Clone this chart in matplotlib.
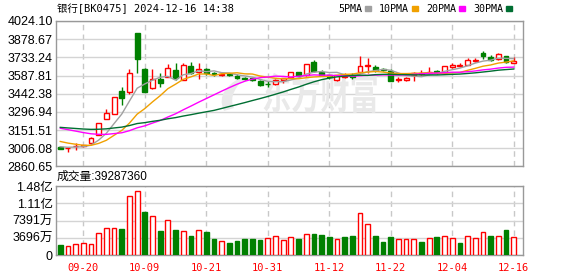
# -*- coding: utf-8 -*-
import numpy as np
import matplotlib
matplotlib.use('Agg')
import matplotlib.pyplot as plt
from matplotlib.patches import Rectangle, Patch, PathPatch
from matplotlib.path import Path
from matplotlib.textpath import TextPath
from matplotlib.font_manager import FontProperties
import matplotlib.transforms as mtrans

dates = ['09-13', '09-18', '09-19', '09-20', '09-23', '09-24', '09-25', '09-26', '09-27', '09-30',
         '10-08', '10-09', '10-10', '10-11', '10-14', '10-15', '10-16', '10-17', '10-18', '10-21',
         '10-22', '10-23', '10-24', '10-25', '10-28', '10-29', '10-30', '10-31', '11-01', '11-04',
         '11-05', '11-06', '11-07', '11-08', '11-11', '11-12', '11-13', '11-14', '11-15', '11-18',
         '11-19', '11-20', '11-21', '11-22', '11-25', '11-26', '11-27', '11-28', '11-29', '12-02',
         '12-03', '12-04', '12-05', '12-06', '12-09', '12-10', '12-11', '12-12', '12-13', '12-16']
opens = [3013, 3008, 3024, 3022, 3045, 3112, 3242, 3282, 3464, 3458,
         3925, 3637, 3485, 3557, 3578, 3632, 3552, 3664, 3620, 3637,
         3605, 3596, 3602, 3585, 3570, 3565, 3546, 3522, 3520, 3548,
         3574, 3614, 3592, 3700, 3618, 3590, 3555, 3580, 3590, 3618,
         3664, 3658, 3640, 3626, 3555, 3548, 3596, 3600, 3616, 3624,
         3618, 3660, 3664, 3672, 3706, 3765, 3733, 3720, 3744, 3692]
highs = [3020, 3012, 3045, 3033, 3098, 3210, 3322, 3415, 3498, 3637,
         3928, 3645, 3637, 3610, 3677, 3690, 3685, 3700, 3690, 3650,
         3615, 3610, 3610, 3600, 3580, 3572, 3555, 3540, 3560, 3570,
         3618, 3620, 3682, 3715, 3630, 3595, 3595, 3610, 3612, 3742,
         3725, 3675, 3650, 3640, 3573, 3575, 3615, 3630, 3660, 3630,
         3668, 3685, 3688, 3725, 3732, 3784, 3752, 3765, 3745, 3740]
lows = [3000, 2975, 2992, 3018, 3043, 3110, 3240, 3278, 3354, 3437,
        3606, 3455, 3480, 3498, 3575, 3552, 3550, 3600, 3560, 3590,
        3585, 3588, 3585, 3560, 3548, 3540, 3505, 3495, 3515, 3530,
        3570, 3575, 3588, 3618, 3588, 3560, 3545, 3568, 3560, 3612,
        3605, 3620, 3628, 3540, 3538, 3540, 3545, 3596, 3605, 3600,
        3615, 3650, 3656, 3670, 3698, 3720, 3706, 3716, 3690, 3688]
closes = [3003, 3011, 3027, 3028, 3085, 3205, 3285, 3413, 3408, 3606,
          3718, 3458, 3562, 3525, 3645, 3565, 3672, 3610, 3640, 3605,
          3598, 3600, 3596, 3568, 3560, 3548, 3512, 3518, 3552, 3565,
          3614, 3586, 3680, 3627, 3592, 3574, 3592, 3585, 3580, 3664,
          3672, 3636, 3632, 3544, 3558, 3572, 3612, 3605, 3620, 3606,
          3664, 3676, 3670, 3712, 3714, 3744, 3712, 3757, 3698, 3702]
volumes = [21400000, 19300000, 23600000, 25000000, 23600000, 46500000, 57200000, 57200000, 55800000, 126500000,
           137000000, 93000000, 83600000, 52000000, 75000000, 53600000, 51500000, 40800000, 53600000, 49300000,
           34300000, 30000000, 26400000, 30700000, 34300000, 34300000, 32900000, 36500000, 40800000, 32200000,
           38600000, 34300000, 45000000, 45800000, 42900000, 38600000, 34300000, 38600000, 40800000, 89400000,
           66500000, 40800000, 28600000, 39300000, 33600000, 33600000, 33600000, 28600000, 36500000, 38600000,
           40800000, 36500000, 26400000, 40800000, 36500000, 49300000, 40800000, 40800000, 53600000, 39287360]
# closes of the 29 sessions before 09-13 (only feed the moving averages)
prior_closes = [3150, 3155, 3160, 3166, 3175, 3190, 3200, 3212, 3225, 3237,
                3240, 3255, 3265, 3280, 3290, 3295, 3285, 3280, 3270, 3260,
                3140, 3120, 3110, 3090, 3050, 3035, 3015, 3018, 3020]

price_ticks = [2860.65, 3006.08, 3151.51, 3296.94, 3442.38, 3587.81, 3733.24, 3878.67, 4024.10]
price_labels = ['2860.65', '3006.08', '3151.51', '3296.94', '3442.38', '3587.81', '3733.24', '3878.67', '4024.10']
vol_ticks = [0, 36960000, 73910000, 110870000, 147830000]
vol_labels = ['0', '3696万', '7391万', '1.11亿', '1.48亿']
date_ticks = ['09-20', '10-09', '10-21', '10-31', '11-12', '11-22', '12-04', '12-16']
ma_periods = [5, 10, 20, 30]
ma_colors = ['#a0a0a0', '#f0a000', '#ff00ff', '#006e32']
title = '银行[BK0475] 2024-12-16 14:38'

RED = '#ff0000'
GREEN = '#008000'
W, H = 578, 276
AX_L, AX_T, AX_R, AX_B = 55.5, 21, 522.7, 166.4


def moving_average(p):
	full = np.array(prior_closes + closes, dtype=float)
	n0 = len(prior_closes)
	return np.array([full[n0 + i - p + 1:n0 + i + 1].mean() for i in range(len(closes))])


def px_axes(fig, left, top, right, bottom):
	return fig.add_axes([left / W, 1 - bottom / H, (right - left) / W, (bottom - top) / H])


def px2ax(px, py):
	# pixel position inside the price panel -> axes fraction (watermark only)
	return ((px - AX_L) / (AX_R - AX_L), 1 - (py - AX_T) / (AX_B - AX_T))


def style_axes(ax):
	for s in ax.spines.values():
		s.set_color('#999999')
		s.set_linewidth(1)
	ax.tick_params(length=0, pad=2)
	ax.set_axisbelow(True)
	ax.yaxis.grid(True, color='#d4d4d4', lw=1, ls='-')
	ax.xaxis.grid(True, color='#c8c8c8', lw=1, ls=(0, (4, 3)))


def watermark(ax):
	wm = '#e9e9e9'
	tp = TextPath((0, 0), '东方财富', size=1, prop=FontProperties(family='Noto Sans CJK SC', weight='bold'))
	x0, y0 = px2ax(262, 109)
	tr = mtrans.Affine2D().scale(0.0625, 0.29).translate(x0, y0) + ax.transAxes
	ax.add_patch(PathPatch(tp, transform=tr, facecolor=wm, edgecolor='none', zorder=1))
	pts = [px2ax(*p) for p in [(252, 72), (213, 88), (224, 111), (234, 108), (226, 92), (252, 72)]]
	codes = [Path.MOVETO, Path.CURVE3, Path.CURVE3, Path.LINETO, Path.CURVE3, Path.CURVE3]
	ax.add_patch(PathPatch(Path(pts, codes), transform=ax.transAxes, facecolor=wm, edgecolor='none', zorder=1))


def draw():
	fig = plt.figure(figsize=(W / 100, H / 100), dpi=100)
	ax = px_axes(fig, AX_L, AX_T, AX_R, AX_B)
	axv = px_axes(fig, AX_L, 186, AX_R, 255)
	x = np.arange(len(closes))
	xt = [dates.index(d) for d in date_ticks]
	yfont = {'family': ['Liberation Sans', 'Noto Sans CJK SC'], 'size': 9}
	mono = ['DejaVu Sans Mono', 'Noto Sans CJK SC']

	for a in (ax, axv):
		style_axes(a)
		a.set_xlim(-0.62, 60.17)
		a.set_xticks(xt)

	# candles
	bw = 0.64
	for i in x:
		o, h, l, c = opens[i], highs[i], lows[i], closes[i]
		up = c >= o
		col = RED if up else GREEN
		ax.vlines(i, l, h, color=col, lw=1, zorder=3)
		bot = min(o, c)
		ht = max(abs(c - o), 1.5)
		ax.add_patch(Rectangle((i - bw / 2, bot), bw, ht, facecolor='white' if up else GREEN,
							   edgecolor=col, lw=1, zorder=4))

	for p, col in zip(ma_periods, ma_colors):
		ax.plot(x, moving_average(p), color=col, lw=1, zorder=5)

	ax.set_ylim(price_ticks[0], price_ticks[-1])
	ax.set_yticks(price_ticks)
	ax.set_yticklabels(price_labels, fontdict=yfont)
	ax.set_xticklabels([])
	watermark(ax)

	# volume
	vcols = []
	for i in x:
		prev = closes[i - 1] if i > 0 else opens[i]
		vcols.append(RED if closes[i] >= prev else GREEN)
	axv.bar(x, volumes, width=0.62, facecolor=['white' if c == RED else GREEN for c in vcols],
			edgecolor=vcols, lw=1, zorder=3)
	axv.set_ylim(0, vol_ticks[-1])
	axv.set_yticks(vol_ticks)
	axv.set_yticklabels(vol_labels, fontdict=yfont)
	axv.set_xticklabels(date_ticks, color=RED, family='DejaVu Sans Mono', size=7.5)
	axv.tick_params(axis='x', pad=6)

	fig.text(57 / W, 1 - 9 / H, title, family=mono, size=7.5, va='center', ha='left')
	fig.text(57 / W, 1 - 176.5 / H, '成交量:%d' % volumes[-1], family=['Liberation Sans', 'Noto Sans CJK SC'],
			 size=8.5, va='center', ha='left')

	handles = [Patch(facecolor=c, edgecolor=c) for c in ma_colors]
	labels = ['%dPMA' % p for p in ma_periods]
	fig.legend(handles, labels, ncol=4, markerfirst=False, frameon=False, loc='center right',
			   bbox_to_anchor=(512 / W, 1 - 9 / H), bbox_transform=fig.transFigure,
			   prop={'family': 'DejaVu Sans Mono', 'size': 7.2}, handlelength=0.6, handleheight=0.4,
			   handletextpad=0.3, columnspacing=0.8, borderpad=0, borderaxespad=0)

	fig.savefig('out.png', dpi=100)


if __name__ == "__main__":
	draw()
